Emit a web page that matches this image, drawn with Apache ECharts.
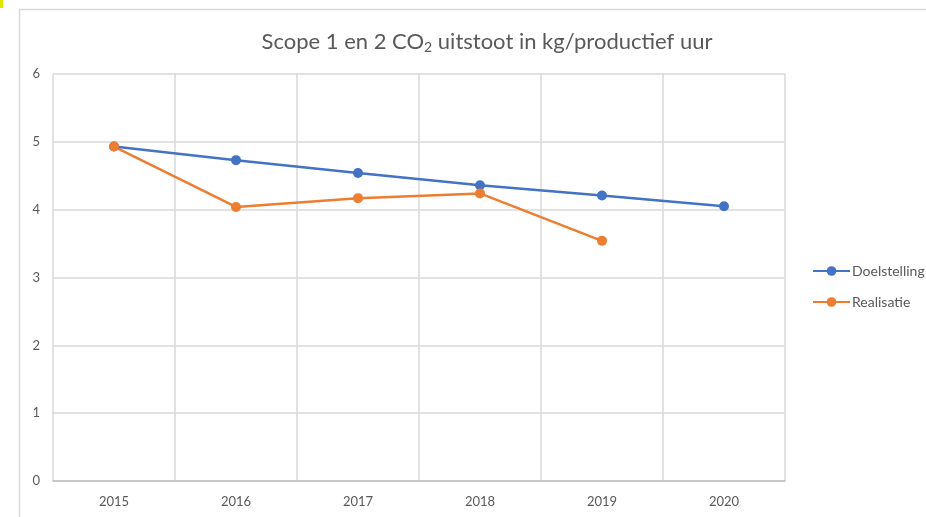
<!DOCTYPE html>
<html>
<head>
<meta charset="utf-8">
<script src="https://cdn.jsdelivr.net/npm/echarts@6/dist/echarts.min.js"></script>
<style>
html,body{margin:0;padding:0;background:#fff;}
#c{width:926px;height:517px;}
</style>
</head>
<body>
<div id="c"></div>
<script>
const categories = ['2015', '2016', '2017', '2018', '2019', '2020'];
const doelstelling = [4.93, 4.73, 4.54, 4.36, 4.21, 4.05];
const realisatie = [4.93, 4.04, 4.17, 4.24, 3.54];
const seriesNames = ['Doelstelling', 'Realisatie'];

const chart = echarts.init(document.getElementById('c'), null, {renderer: 'canvas'});
const font = 'Lato, "Open Sans", sans-serif';
chart.setOption({
  animation: false,
  backgroundColor: '#fff',
  graphic: [
    {type: 'rect', shape: {x: 19.5, y: 9.5, width: 1000, height: 1000}, style: {fill: 'none', stroke: '#d9d9d9', lineWidth: 1.5}, silent: true},
    {type: 'rect', shape: {x: 0, y: 0, width: 3, height: 8}, style: {fill: '#e2e600'}, silent: true}
  ],
  title: {
    text: 'Scope 1 en 2 CO{sub|2} uitstoot in kg/productief uur',
    left: 482, top: 24, textAlign: 'center',
    textStyle: {
      fontFamily: font, fontSize: 22, fontWeight: 'normal', color: '#595959',
      rich: {sub: {fontFamily: font, fontSize: 14, color: '#595959', verticalAlign: 'bottom', padding: [11, 0, 0, 0]}}
    }
  },
  legend: {
    orient: 'vertical', left: 812, top: 264, padding: 0, itemWidth: 37, itemHeight: 12, itemGap: 17,
    textStyle: {fontFamily: font, fontSize: 14, color: '#595959', padding: [0, 0, 0, -3]},
    data: seriesNames
  },
  grid: {left: 53, right: 141, top: 74, bottom: 36, containLabel: false},
  xAxis: {
    type: 'category', data: categories, boundaryGap: true,
    axisLine: {lineStyle: {color: '#bfbfbf', width: 1.5}},
    axisTick: {show: false},
    axisLabel: {fontFamily: font, fontSize: 13, color: '#595959', margin: 14},
    splitLine: {show: true, lineStyle: {color: '#d9d9d9', width: 1.5}}
  },
  yAxis: {
    type: 'value', min: 0, max: 6, interval: 1,
    axisLine: {show: false}, axisTick: {show: false},
    axisLabel: {fontFamily: font, fontSize: 13, color: '#595959', margin: 13},
    splitLine: {lineStyle: {color: '#d9d9d9', width: 1.5}}
  },
  series: [
    {name: seriesNames[0], type: 'line', data: doelstelling, symbol: 'circle', symbolSize: 10,
     itemStyle: {color: '#4472c4'}, lineStyle: {color: '#4472c4', width: 2.5}},
    {name: seriesNames[1], type: 'line', data: realisatie, symbol: 'circle', symbolSize: 10,
     itemStyle: {color: '#ed7d31'}, lineStyle: {color: '#ed7d31', width: 2.5}}
  ]
});
</script>
</body>
</html>
